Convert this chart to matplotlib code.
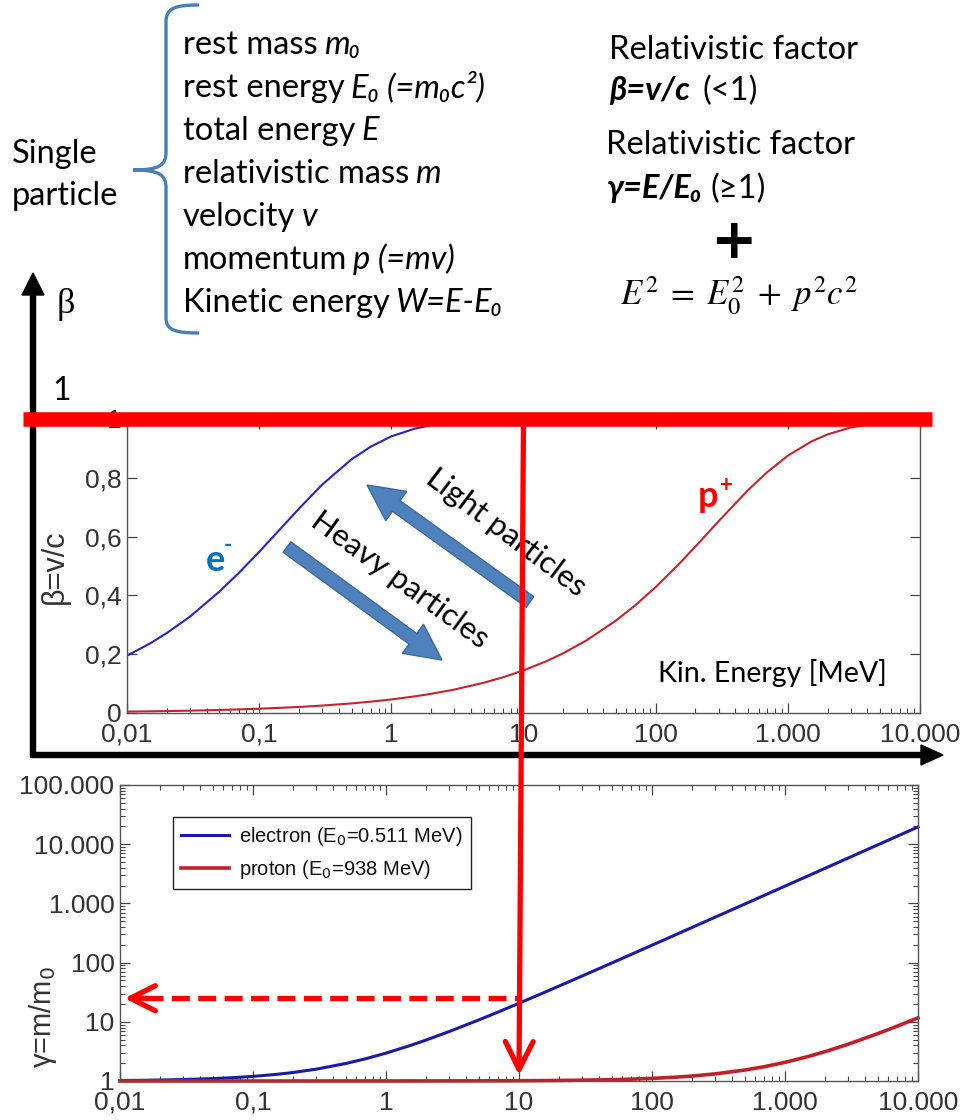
import matplotlib.pyplot as plt
from matplotlib.patches import ConnectionPatch, PathPatch
from matplotlib.path import Path
from matplotlib.ticker import NullFormatter
from matplotlib.transforms import blended_transform_factory

plt.rcParams['font.family'] = ['Lato', 'DejaVu Sans']

# kinetic energy [MeV] and values
energy = [0.01, 0.015, 0.02, 0.03, 0.05, 0.07, 0.1, 0.15, 0.2, 0.3, 0.5, 0.7,
          1, 1.5, 2, 3, 5, 7, 10, 15, 20, 30, 50, 70, 100, 150, 200, 300, 500, 700,
          1000, 1500, 2000, 3000, 5000, 7000, 10000]
beta_e = [0.195, 0.237, 0.272, 0.328, 0.413, 0.476, 0.548, 0.634, 0.695, 0.777, 0.863, 0.906,
          0.941, 0.967, 0.979, 0.989, 0.996, 0.998, 0.999, 0.999, 1.0, 1.0, 1.0, 1.0, 1.0, 1.0,
          1.0, 1.0, 1.0, 1.0, 1.0, 1.0, 1.0, 1.0, 1.0, 1.0, 1.0]
beta_p = [0.0046, 0.0057, 0.0065, 0.0080, 0.0103, 0.0122, 0.0146, 0.0179, 0.0206, 0.0253, 0.0326, 0.0386,
          0.0461, 0.0565, 0.0652, 0.0798, 0.1028, 0.1215, 0.1449, 0.1767, 0.2033, 0.2470, 0.3141, 0.3662,
          0.4283, 0.5067, 0.5663, 0.6527, 0.7580, 0.8197, 0.8751, 0.9230, 0.9477, 0.9713, 0.9875, 0.9930, 0.9963]
gamma_e = [1.020, 1.029, 1.039, 1.059, 1.098, 1.137, 1.196, 1.294, 1.391, 1.587, 1.978, 2.370,
           2.957, 3.935, 4.914, 6.871, 10.78, 14.70, 20.57, 30.35, 40.14, 59.71, 98.85, 138.0,
           196.7, 294.5, 392.4, 588.1, 979.5, 1371, 1958, 2936, 3915, 5872, 9786, 13700, 19570]
gamma_p = [1.0, 1.0, 1.0, 1.0, 1.0, 1.0, 1.0, 1.0, 1.0, 1.0, 1.001, 1.001,
           1.001, 1.0016, 1.0021, 1.0032, 1.0053, 1.0075, 1.0107, 1.016, 1.0213, 1.032, 1.053, 1.075,
           1.107, 1.160, 1.213, 1.320, 1.533, 1.746, 2.066, 2.599, 3.132, 4.198, 6.330, 8.463, 11.66]

x_ticks = [0.01, 0.1, 1, 10, 100, 1000, 10000]
x_labels = ['0,01', '0,1', '1', '10', '100', '1.000', '10.000']
beta_ticks = [0, 0.2, 0.4, 0.6, 0.8, 1]
beta_labels = ['0', '0,2', '0,4', '0,6', '0,8', '1']
gamma_ticks = [1, 10, 100, 1000, 10000, 100000]
gamma_labels = ['1', '10', '100', '1.000', '10.000', '100.000']

W, H = 964, 1120
fig = plt.figure(figsize=(W / 100, H / 100), dpi=100)


def fbox(l, t, r, b):
    return [l / W, 1 - b / H, (r - l) / W, (b - t) / H]


ax1 = fig.add_axes(fbox(127, 419, 920, 713))
ax2 = fig.add_axes(fbox(120, 785, 918, 1081))
over = fig.add_axes([0, 0, 1, 1], zorder=5)
over.set_xlim(0, W)
over.set_ylim(H, 0)
over.axis('off')

tick_font = ['Liberation Sans', 'DejaVu Sans']
grey = '#333333'
tfs = 19

for ax in (ax1, ax2):
    ax.set_xscale('log')
    ax.set_xlim(0.01, 10000)
    ax.set_xticks(x_ticks)
    ax.set_xticklabels(x_labels, fontfamily=tick_font, fontsize=tfs, color=grey)
    ax.xaxis.set_minor_formatter(NullFormatter())
    ax.tick_params(which='both', direction='in', top=True, right=True, color='#444444')
    ax.tick_params(which='major', length=7, width=0.9)
    ax.tick_params(which='minor', length=3.5, width=0.8)
    ax.tick_params(axis='x', pad=7)
    for s in ax.spines.values():
        s.set_color('#555555')
        s.set_linewidth(1.0)

# beta plot
ax1.plot(energy, beta_e, color='#2424c8', lw=1.5)
ax1.plot(energy, beta_p, color='#c8232c', lw=1.5)
ax1.set_ylim(0, 1)
ax1.set_yticks(beta_ticks)
ax1.set_yticklabels(beta_labels, fontfamily=tick_font, fontsize=tfs, color=grey)
ax1.tick_params(axis='y', pad=4)

# gamma plot
ax2.plot(energy, gamma_e, color='#1a1aa8', lw=2.2, label='electron (E$_0$=0.511 MeV)', clip_on=False)
ax2.plot(energy, gamma_p, color='#c0202a', lw=2.6, label='proton (E$_0$=938 MeV)', clip_on=False)
ax2.set_yscale('log')
ax2.set_ylim(1, 100000)
ax2.set_yticks(gamma_ticks)
ax2.set_yticklabels(gamma_labels, fontfamily=tick_font, fontsize=tfs, color=grey)
ax2.yaxis.set_minor_formatter(NullFormatter())
ax2.tick_params(axis='y', pad=4)
leg = ax2.legend(loc='upper left', bbox_to_anchor=(0.066, 0.892), borderaxespad=0,
                 fancybox=False, edgecolor='#222222', framealpha=1, handlelength=2.4,
                 handletextpad=0.5, prop={'family': tick_font, 'size': 14.5})
leg.get_frame().set_linewidth(1.0)
for t in leg.get_texts():
    t.set_color('#111111')
    t.set_math_fontfamily('dejavusans')

# y labels
over.text(55, 567, 'β=v/c', rotation=90, ha='center', va='center', fontsize=22,
          family=tick_font, color=grey)
over.text(43, 1017, 'γ=m/m$_0$', rotation=90, ha='center', va='center', fontsize=21,
          family=tick_font, color=grey, math_fontfamily='dejavusans')

# black axes arrows
over.arrow(33, 757, 0, -484, width=5, head_width=22, head_length=22,
           length_includes_head=True, color='black', zorder=3)
over.arrow(31, 755, 912, 0, width=5, head_width=20, head_length=22,
           length_includes_head=True, color='black', zorder=3)
over.text(57, 313, 'β', fontsize=26, family=['Liberation Serif', 'DejaVu Serif'])
over.text(52, 400, '1', fontsize=23)

# light / heavy arrows
over.arrow(530, 602, -163, -117, width=13, head_width=36, head_length=36,
           length_includes_head=True, fc='#4f81bd', ec='#3d6a9e', lw=1, zorder=4)
over.arrow(287, 547, 155, 113, width=13, head_width=36, head_length=36,
           length_includes_head=True, fc='#4f81bd', ec='#3d6a9e', lw=1, zorder=4)
over.text(506, 533, 'Light particles', rotation=-37, ha='center', va='center', fontsize=22.5)
over.text(400, 580, 'Heavy particles', rotation=-36, ha='center', va='center', fontsize=22.5)
over.text(658, 682, 'Kin. Energy [MeV]', fontsize=20.5)
over.text(206, 571, 'e', fontsize=26, fontweight='bold', color='#0070c0')
over.text(224, 552, '-', fontsize=16, fontweight='bold', color='#0070c0')
over.text(698, 507, 'p', fontsize=26, fontweight='bold', color='#ff0000')
over.text(720, 492, '+', fontsize=16, fontweight='bold', color='#ff0000')

# red guide lines
tr = blended_transform_factory(over.transData, ax1.transData)
over.plot([23, 932], [1, 1], transform=tr, color='#ff0000', lw=10.5,
          solid_capstyle='butt', zorder=10)
con = ConnectionPatch(xyA=(10, 1), coordsA=ax1.transData, xyB=(10, 1.25), coordsB=ax2.transData,
                      arrowstyle='->,head_length=1.0,head_width=0.5', mutation_scale=20,
                      color='#ff0000', lw=3.8, zorder=11)
fig.add_artist(con)
ax2.plot([0.0155, 10], [25, 25], color='#ff0000', lw=3.8, dashes=(3.4, 1.6), zorder=6)
ax2.annotate('', xy=(0.0108, 25), xytext=(0.0155, 25), annotation_clip=False,
             arrowprops=dict(arrowstyle='->,head_length=0.9,head_width=0.45', mutation_scale=20,
                             color='#ff0000', lw=3.8, shrinkA=0, shrinkB=0))

# brace and definitions
verts = [(199, 5), (175, 5), (166, 8), (166, 22), (166, 152),
         (166, 165), (160, 170), (133, 170),
         (160, 170), (166, 175), (166, 188), (166, 318),
         (166, 330), (175, 333), (199, 333)]
codes = [Path.MOVETO, Path.CURVE4, Path.CURVE4, Path.CURVE4, Path.LINETO,
         Path.CURVE4, Path.CURVE4, Path.CURVE4,
         Path.CURVE4, Path.CURVE4, Path.CURVE4, Path.LINETO,
         Path.CURVE4, Path.CURVE4, Path.CURVE4]
over.add_patch(PathPatch(Path(verts, codes), fc='none', ec='#4a7ebb', lw=2.4))

fs = 23.5
renderer = fig.canvas.get_renderer()


def mixed(x, y, plain, ital, gap=6):
    t = over.text(x, y, plain, fontsize=fs)
    bb = t.get_window_extent(renderer=renderer)
    x2 = over.transData.inverted().transform((bb.x1, bb.y0))[0]
    over.text(x2 + gap, y, ital, fontsize=fs, style='italic')


over.text(12, 163, 'Single', fontsize=fs)
over.text(12, 205, 'particle', fontsize=fs)
items = [('rest mass', 'm₀'),
         ('rest energy', 'E₀ (=m₀c²)'),
         ('total energy', 'E'),
         ('relativistic mass', 'm'),
         ('velocity', 'v'),
         ('momentum', 'p (=mv)'),
         ('Kinetic energy', 'W=E-E₀')]
for i, (plain, ital) in enumerate(items):
    mixed(183, 54 + 43 * i, plain, ital)

over.text(609, 59, 'Relativistic factor', fontsize=fs)
over.text(609, 100, 'β=v/c', fontsize=fs, fontweight='bold', style='italic')
over.text(703, 100, '(<1)', fontsize=fs)
over.text(606, 154, 'Relativistic factor', fontsize=fs)
over.text(607, 198, 'γ=E/E₀', fontsize=fs, fontweight='bold', style='italic')
over.text(710, 198, '(≥1)', fontsize=fs)
over.text(733, 243, '+', fontsize=40, fontweight='bold', ha='center', va='center',
          family='DejaVu Sans')
over.text(620, 305, r'$E^2\;=\;E_0^2\;+\;p^2c^2$', fontsize=25, math_fontfamily='stix')

fig.savefig('out.png', dpi=100)
